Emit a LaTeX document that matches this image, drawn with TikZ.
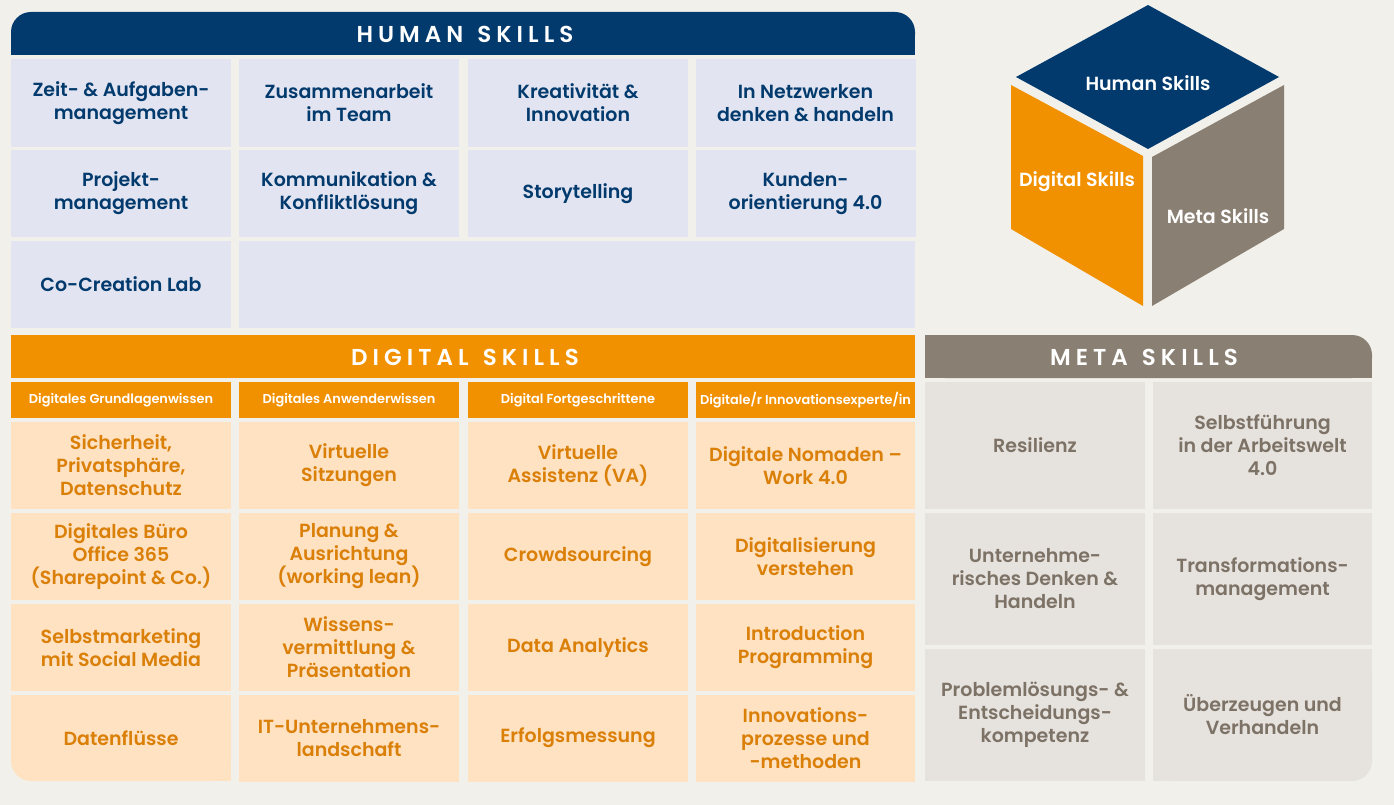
\documentclass[tikz,border=0pt]{standalone}
\usepackage{fontspec}
\setmainfont{Poppins}[BoldFont={* SemiBold}]
\usepackage{tikz}
\usetikzlibrary{positioning}
\definecolor{bg}{HTML}{F1F0EB}
\definecolor{navy}{HTML}{023A6D}
\definecolor{orng}{HTML}{F29100}
\definecolor{orngtext}{HTML}{DA7F08}
\definecolor{taupe}{HTML}{8A7F73}
\definecolor{taupetext}{HTML}{7D7266}
\definecolor{humancell}{HTML}{E2E5F1}
\definecolor{digitalcell}{HTML}{FFE2C2}
\definecolor{metacell}{HTML}{E6E2DE}
\newcommand\cellfont{\bfseries\fontsize{19}{23}\selectfont}
\newcommand\headfont{\bfseries\fontsize{23}{26}\selectfont\addfontfeature{LetterSpace=22}}
\newcommand\subfont{\bfseries\fontsize{12.9}{15}\selectfont}
\newcommand\wsp{\hspace{14pt}}

\begin{document}
\begin{tikzpicture}[x=1pt,y=-1pt]
	\tikzstyle{every node} = [inner sep=0pt, align=center]
	\tikzstyle{hcell} = [fill=humancell, text=navy, minimum width=220pt, minimum height=88pt, font=\cellfont]
	\tikzstyle{dcell} = [fill=digitalcell, text=orngtext, minimum width=220pt, minimum height=87pt, font=\cellfont]
	\tikzstyle{dsub} = [fill=orng, text=white, minimum width=220pt, minimum height=36pt, font=\subfont]
	\tikzstyle{mcell} = [fill=metacell, text=taupetext, minimum width=220pt, font=\cellfont]
	\tikzstyle{head} = [text=white, font=\headfont]
\fill[bg] (0,0) rectangle (1394,805);
\useasboundingbox (0,0) rectangle (1394,805);
% human skills
\fill[navy, rounded corners=20pt] (11,12) rectangle (915,55);
\fill[navy] (11,35) rectangle (915,55);
\node[head] (hhead) at (465,34) {HUMAN\wsp{}SKILLS};
\node[hcell] (h1) at (121, 103) {Zeit- \& Aufgaben-\\management};
\node[hcell] (h2) at (349, 103) {Zusammenarbeit\\im Team};
\node[hcell] (h3) at (578, 103) {Kreativität \&\\Innovation};
\node[hcell] (h4) at (805.5, 103) {In Netzwerken\\denken \& handeln};
\node[hcell, minimum height=87pt] (h5) at (121, 193.5) {Projekt-\\management};
\node[hcell, minimum height=87pt] (h6) at (349, 193.5) {Kommunikation \&\\Konfliktlösung};
\node[hcell, minimum height=87pt] (h7) at (578, 193.5) {Storytelling};
\node[hcell, minimum height=87pt] (h8) at (805.5, 193.5) {Kunden-\\orientierung 4.0};
\node[hcell, minimum height=87pt] (h9) at (121, 284.5) {Co-Creation Lab};
\node[hcell, minimum height=87pt, minimum width=676pt] (h10) at (577, 284.5) {};
% digital skills
\node[fill=orng, minimum width=904pt, minimum height=43pt] (dbar) at (463,356.5) {};
\node[head] (dhead) at (465,357) {DIGITAL\wsp{}SKILLS};
\node[dsub] (d0) at (121, 400) {Digitales Grundlagenwissen};
\node[dsub] (d00) at (349, 400) {Digitales Anwenderwissen};
\node[dsub] (d000) at (578, 400) {Digital Fortgeschrittene};
\node[dsub, minimum width=219pt] (d0000) at (805.5, 400) {Digitale/r Innovationsexperte/in};
\node[dcell] (d1) at (121, 465.5) {Sicherheit,\\Privatsphäre,\\Datenschutz};
\node[dcell] (d2) at (121, 556.5) {Digitales Büro\\Office 365\\(Sharepoint \& Co.)};
\node[dcell] (d3) at (121, 647.5) {Selbstmarketing\\mit Social Media};
\fill[digitalcell, rounded corners=20pt] (11,695) rectangle (231,781);
\fill[digitalcell] (11,695) rectangle (231,740);
\fill[digitalcell] (150,695) rectangle (231,781);
\node[dcell, fill=none] (d4) at (121, 738) {Datenflüsse};
\node[dcell] (d5) at (349, 465.5) {Virtuelle\\Sitzungen};
\node[dcell] (d6) at (349, 556.5) {Planung \&\\Ausrichtung\\(working lean)};
\node[dcell] (d7) at (349, 647.5) {Wissens-\\vermittlung \&\\Präsentation};
\node[dcell] (d8) at (349, 738) {IT-Unternehmens-\\landschaft};
\node[dcell] (d9) at (578, 465.5) {Virtuelle\\Assistenz (VA)};
\node[dcell] (d10) at (578, 556.5) {Crowdsourcing};
\node[dcell] (d11) at (578, 647.5) {Data Analytics};
\node[dcell] (d12) at (578, 738) {Erfolgsmessung};
\node[dcell, minimum width=219pt] (d13) at (805.5, 465.5) {Digitale Nomaden –\\Work 4.0};
\node[dcell, minimum width=219pt] (d14) at (805.5, 556.5) {Digitalisierung\\verstehen};
\node[dcell, minimum width=219pt] (d15) at (805.5, 647.5) {Introduction\\Programming};
\node[dcell, minimum width=219pt] (d16) at (805.5, 738) {Innovations-\\prozesse und\\-methoden};
% meta skills
\fill[taupe, rounded corners=20pt] (925,335) rectangle (1372,378);
\fill[taupe] (925,355) rectangle (1372,378);
\fill[taupe] (925,335) rectangle (1000,378);
\node[head] (mhead) at (1144,357) {META\wsp{}SKILLS};
\node[mcell, minimum height=127pt] (m1) at (1035, 445.5) {Resilienz};
\node[mcell, minimum height=127pt, minimum width=219pt] (m2) at (1262.5, 445.5) {Selbstführung\\in der Arbeitswelt\\4.0};
\node[mcell, minimum height=132pt] (m3) at (1035, 579) {Unternehme-\\risches Denken \&\\Handeln};
\node[mcell, minimum height=132pt, minimum width=219pt] (m4) at (1262.5, 579) {Transformations-\\management};
\node[mcell, minimum height=132pt] (m5) at (1035, 715) {Problemlösungs- \&\\Entscheidungs-\\kompetenz};
\fill[metacell, rounded corners=20pt] (1153,649) rectangle (1372,781);
\fill[metacell] (1153,649) rectangle (1372,720);
\fill[metacell] (1153,649) rectangle (1300,781);
\node[mcell, fill=none, minimum height=132pt, minimum width=219pt] (m6) at (1262.5, 715) {Überzeugen und\\Verhandeln};
% cube
\fill[navy] (1148,5) -- (1279,77) -- (1148,149) -- (1016,77) -- cycle;
\fill[orng] (1011,85) -- (1143,156) -- (1143,306) -- (1011,229) -- cycle;
\fill[taupe] (1152,157) -- (1284,85) -- (1284,229) -- (1152,306) -- cycle;
\node[text=white, font=\cellfont] (chuman) at (1148,83) {Human Skills};
\node[text=white, font=\cellfont] (cdigital) at (1077,182) {Digital Skills};
\node[text=white, font=\cellfont] (cmeta) at (1218,216) {Meta Skills};
 	\end{tikzpicture}
\end{document}
